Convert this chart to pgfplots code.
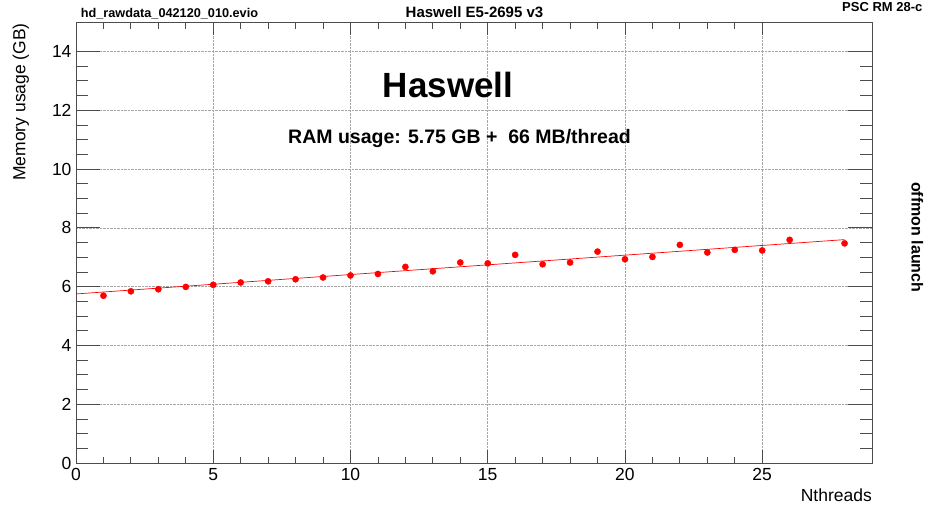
\documentclass[border=0pt]{standalone}
\usepackage{fontspec}
\setmainfont{Liberation Sans}
\usepackage{pgfplots}
\pgfplotsset{compat=1.18}
\usepackage{pgfplotstable}
\pgfplotstableread{
x y
1 5.69
2 5.84
3 5.91
4 5.99
5 6.06
6 6.14
7 6.18
8 6.25
9 6.31
10 6.38
11 6.43
12 6.67
13 6.52
14 6.82
15 6.79
16 7.08
17 6.76
18 6.82
19 7.19
20 6.93
21 7.01
22 7.42
23 7.16
24 7.25
25 7.23
26 7.59
28 7.47
}\memdata
\pgfplotsset{
  rootframe/.style={
    at={(76pt,41pt)}, anchor=south west,
    scale only axis, width=796pt, height=441pt,
    xmin=0, xmax=29, ymin=0, ymax=15,
    grid=major,
    major grid style={densely dotted, black!35, line width=0.6pt},
    tick align=inside,
    axis line style={black!70, line width=0.8pt},
    tick style={black!70, line width=0.8pt},
    /pgf/number format/assume math mode=true,
    ticklabel style={font=\fontsize{17.5}{17.5}\selectfont},
  }
}
\begin{document}
\begin{tikzpicture}
\useasboundingbox (0,0) rectangle (928pt,504pt);
% y ticks and horizontal grid (longer ticks, as in the reference)
\begin{axis}[rootframe,
  xtick=\empty, ytick={0,2,...,14}, minor y tick num=3,
  major tick length=24pt, minor tick length=12pt,
  yticklabel style={xshift=-1pt},
]
\addplot[draw=none] coordinates {(0,0)};
\end{axis}
% x ticks, vertical grid and data
\begin{axis}[rootframe,
  ytick=\empty, xtick={0,5,...,25}, minor x tick num=4,
  major tick length=13pt, minor tick length=6.5pt,
  xticklabel style={yshift=-2pt},
]
\addplot[red, line width=0.7pt] coordinates {(0,5.75) (28,7.598)};
\addplot[only marks, mark=*, mark size=3.1pt, red, mark options={draw=red, fill=red}] table[x=x, y=y] {\memdata};
\end{axis}
\node[anchor=base, font=\bfseries\fontsize{12.7}{12.7}\selectfont] at (169.5pt,486.3pt) {hd\_rawdata\_042120\_010.evio};
\node[anchor=base, font=\bfseries\fontsize{15}{15}\selectfont] at (474.5pt,486pt) {Haswell E5-2695 v3};
\node[anchor=base west, inner sep=0pt, font=\bfseries\fontsize{13}{13}\selectfont] at (842pt,492pt) {PSC RM 28-c};
\node[anchor=base, font=\bfseries\fontsize{35}{35}\selectfont] at (448pt,406pt) {Haswell};
\node[anchor=base, font=\bfseries\fontsize{19.5}{19.5}\selectfont] at (459.5pt,360pt) {RAM usage: 5.75 GB +\ \ 66 MB/thread};
\node[anchor=base east, inner sep=0pt, rotate=90, font=\fontsize{17.5}{17.5}\selectfont] at (25.3pt,481pt) {Memory usage (GB)};
\node[anchor=base east, inner sep=0pt, font=\fontsize{17.5}{17.5}\selectfont] at (872pt,3pt) {Nthreads};
\node[anchor=base west, inner sep=0pt, rotate=-90, font=\bfseries\fontsize{16}{16}\selectfont] at (911.7pt,322pt) {offmon launch};
\end{tikzpicture}
\end{document}
